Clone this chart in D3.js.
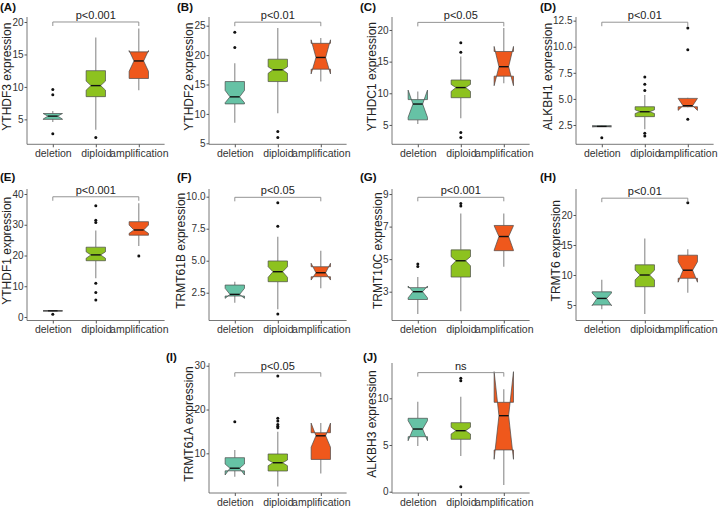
<!DOCTYPE html>
<html>
<head>
<meta charset="utf-8">
<script src="https://cdn.jsdelivr.net/npm/d3@7/dist/d3.min.js"></script>
<style>
  body { margin: 0; background: #fff; }
  svg { display: block; font-family: 'Liberation Sans', Arial, sans-serif; }
</style>
</head>
<body>
<div id="container"></div>
<script>
// ---- data ----
const groups = ['deletion', 'diploid', 'amplification'];
const genes = ['YTHDF3', 'YTHDF2', 'YTHDC1', 'ALKBH1', 'YTHDF1', 'TRMT61B', 'TRMT10C', 'TRMT6', 'TRMT61A', 'ALKBH3'];
const tags = ['(A)', '(B)', '(C)', '(D)', '(E)', '(F)', '(G)', '(H)', '(I)', '(J)'];
const pLabels = ['p<0.001', 'p<0.01', 'p<0.05', 'p<0.01', 'p<0.001', 'p<0.05', 'p<0.001', 'p<0.01', 'p<0.05', 'ns'];
const yTicks = [
    [5, 10, 15, 20], [5, 10, 15, 20, 25], [5, 10, 15, 20], [2.5, 5, 7.5, 10, 12.5],
    [0, 10, 20, 30, 40], [2.5, 5, 7.5, 10], [3, 5, 7, 9], [5, 10, 15, 20],
    [10, 20, 30], [0, 5, 10]
];
const yDomains = [
    [1.16, 20.77], [4.83, 26.48], [1.94, 22.05], [0.65, 12.85],
    [-1.14, 41.63], [0.33, 10.6], [1.23, 9.31], [2.42, 24.33],
    [0.94, 30.62], [-0.14, 13.78]
];
const bracketY = [20.0, 25.6, 21.2, 12.35, 39.1, 9.95, 8.8, 22.8, 28.4, 12.75];

// per panel: [deletion, diploid, amplification]
const whiskerLo = [
    [4.6, 3.4, 9.5], [8.5, 10.1, 15.5], [5.15, 6.05, 11.6], [2.3, 2.1, 4.2], [2.0, 12.6, 23.1],
    [1.72, 1.2, 2.84], [1.63, 1.8, 4.53], [4.3, 3.5, 7.05], [4.65, 2.4, 5.4], [4.9, 3.82, 0.72]
];
const q1 = [
    [5.0, 8.5, 11.3], [11.7, 15.5, 17.6], [5.8, 9.3, 12.7], [2.33, 3.3, 4.25], [2.0, 18.3, 26.6],
    [2.24, 3.36, 3.75], [2.52, 3.9, 5.52], [5.0, 8.05, 9.45], [6.0, 5.96, 8.6], [5.89, 5.61, 4.47]
];
const notchLo = [
    [5.05, 9.5, 12.4], [11.9, 16.9, 16.8], [6.2, 10.3, 11.2], [2.33, 3.6, 3.9], [2.0, 19.1, 27.2],
    [2.06, 3.7, 3.49], [2.62, 4.59, 5.55], [4.9, 9.2, 8.8], [5.05, 7.17, 11.4], [5.46, 6.18, 3.47]
];
const medians = [
    [5.5, 10.2, 14.0], [12.9, 17.5, 19.6], [8.3, 10.9, 14.2], [2.37, 3.77, 4.35], [2.0, 20.2, 28.3],
    [2.37, 4.14, 4.06], [3.0, 4.9, 6.39], [6.1, 10.0, 10.8], [6.6, 7.85, 14.0], [6.71, 6.53, 8.14]
];
const notchHi = [
    [5.9, 10.9, 15.6], [14.0, 18.0, 22.6], [10.5, 11.4, 17.4], [2.42, 3.95, 5.05], [2.0, 21.2, 29.9],
    [2.84, 4.53, 4.8], [3.35, 5.15, 7.05], [7.0, 10.8, 12.2], [7.55, 8.47, 16.9], [7.6, 6.9, 12.85]
];
const q3 = [
    [5.9, 12.5, 15.4], [15.5, 19.3, 22.0], [9.0, 12.1, 16.6], [2.42, 4.25, 5.05], [2.0, 22.7, 31.0],
    [3.1, 4.98, 4.53], [3.25, 5.57, 7.07], [7.2, 11.7, 13.3], [9.0, 9.85, 14.7], [7.86, 7.39, 9.57]
];
const whiskerHi = [
    [6.3, 17.6, 19.0], [18.6, 24.6, 22.9], [10.3, 15.8, 20.3], [2.45, 5.38, 5.1], [2.0, 28.1, 37.0],
    [3.36, 6.88, 5.78], [3.9, 7.8, 7.8], [9.2, 16.1, 14.3], [10.75, 14.9, 16.9], [9.64, 10.17, 10.96]
];
const outliers = [
    [[9.6, 8.8, 2.8], [2.2], []],
    [[21.3, 23.9], [7.0, 6.0], []],
    [[], [18.0, 16.5, 3.8, 3.0], []],
    [[1.28], [7.1, 6.4, 5.8, 1.7, 1.45], [11.8, 9.7, 3.05]],
    [[0.9], [36.2, 31.5, 30.7, 11.0, 8.0, 5.5], [19.8]],
    [[], [9.53, 7.7, 0.84], []],
    [[4.7, 4.55], [8.42, 8.27], []],
    [[], [], [22.05]],
    [[17.2], [27.65, 18.0, 17.4, 16.6, 16.2, 15.85], []],
    [[], [12.14, 11.88, 0.54], []]
];

// ---- layout ----
const W = 720, H = 509;
const FONT = "'Liberation Sans', Arial, sans-serif";
const fills = { deletion: '#66C2A5', diploid: '#8DC21F', amplification: '#EF581C' };
const colAxisX = [27, 209, 392, 576];
const colTagX = [0, 177, 360, 540];
const rowTop = [17, 189, 363];
const rowBottom = [144.3, 320.5, 493];
const rowTagY = [11, 181, 361];
const plotW = 137.6;
const cells = [
    [0, 0], [0, 1], [0, 2], [0, 3],
    [1, 0], [1, 1], [1, 2], [1, 3],
    [2, 1], [2, 2]
];
const tagShift = [0, 0, 0, 0, 0, 0, 0, 0, -11, 3];

const svg = d3.select('#container')
    .append('svg')
    .attr('width', W)
    .attr('height', H);

genes.forEach((gene, p) => {
    const [r, c] = cells[p];
    const x0 = colAxisX[c];
    const top = rowTop[r], bottom = rowBottom[r];
    const g = svg.append('g');

    const x = d3.scalePoint().domain(groups).range([x0, x0 + plotW]).padding(0.6);
    const y = d3.scaleLinear().domain(yDomains[p]).range([bottom, top]);
    const half = x.step() * 0.225;
    const dec = yTicks[p].some(t => t % 1 !== 0);
    const fmt = dec ? d3.format('.1f') : d3.format('d');

    // tag
    g.append('text')
        .attr('x', colTagX[c] + tagShift[p])
        .attr('y', rowTagY[r])
        .attr('font-size', 11.5)
        .attr('font-weight', 'bold')
        .attr('fill', '#111')
        .text(tags[p]);

    // y axis
    const yAxis = g.append('g')
        .attr('transform', `translate(${x0},0)`)
        .call(d3.axisLeft(y).tickValues(yTicks[p]).tickFormat(fmt).tickSize(2.5).tickPadding(1))
        .attr('font-family', FONT)
        .attr('font-size', 10);
    yAxis.select('.domain').remove();
    yAxis.selectAll('line').attr('stroke', '#555');
    yAxis.selectAll('text').attr('fill', '#333');

    // x axis
    const xAxis = g.append('g')
        .attr('transform', `translate(0,${bottom})`)
        .call(d3.axisBottom(x).tickSize(3).tickPadding(2.5))
        .attr('font-family', FONT)
        .attr('font-size', 10.5);
    xAxis.select('.domain').remove();
    xAxis.selectAll('line').attr('stroke', '#555');
    xAxis.selectAll('text').attr('fill', '#333');

    // axis lines
    g.append('path')
        .attr('d', `M${x0},${top}V${bottom}H${x0 + plotW}`)
        .attr('fill', 'none')
        .attr('stroke', '#555')
        .attr('stroke-width', 0.8);

    // y title
    let maxW = 0;
    yAxis.selectAll('text').each(function () { maxW = Math.max(maxW, this.getComputedTextLength()); });
    const tx = x0 - 3.5 - maxW - 5.5;
    g.append('text')
        .attr('transform', `translate(${tx},${(top + bottom) / 2 - 4}) rotate(-90)`)
        .attr('text-anchor', 'middle')
        .attr('dy', '0.36em')
        .attr('font-size', 12)
        .attr('fill', '#222')
        .text(gene + ' expression');

    // boxes
    groups.forEach((grp, i) => {
        const cx = x(grp);
        const xmin = cx - half, xmax = cx + half;
        const ind = (xmax - xmin) * 0.25;
        // whiskers
        g.append('line')
            .attr('x1', cx).attr('x2', cx)
            .attr('y1', y(q3[p][i])).attr('y2', y(whiskerHi[p][i]))
            .attr('stroke', '#8a8a8a').attr('stroke-width', 1.1);
        g.append('line')
            .attr('x1', cx).attr('x2', cx)
            .attr('y1', y(q1[p][i])).attr('y2', y(whiskerLo[p][i]))
            .attr('stroke', '#8a8a8a').attr('stroke-width', 1.1);
        const pts = [
            [xmin, q3[p][i]], [xmin, notchHi[p][i]], [xmin + ind, medians[p][i]], [xmin, notchLo[p][i]],
            [xmin, q1[p][i]], [xmax, q1[p][i]], [xmax, notchLo[p][i]], [xmax - ind, medians[p][i]],
            [xmax, notchHi[p][i]], [xmax, q3[p][i]]
        ];
        g.append('path')
            .attr('d', 'M' + pts.map(d => d[0] + ',' + y(d[1])).join('L') + 'Z')
            .attr('fill', fills[grp])
            .attr('stroke', '#4a4a4a')
            .attr('stroke-width', 0.7);
        g.append('line')
            .attr('x1', xmin + ind).attr('x2', xmax - ind)
            .attr('y1', y(medians[p][i])).attr('y2', y(medians[p][i]))
            .attr('stroke', '#111').attr('stroke-width', 1.4);
        g.selectAll(null)
            .data(outliers[p][i])
            .enter()
            .append('circle')
            .attr('cx', cx)
            .attr('cy', d => y(d))
            .attr('r', 1.5)
            .attr('fill', '#111');
    });

    // significance bracket
    const by = y(bracketY[p]);
    const bx1 = x(groups[0]), bx2 = x(groups[2]);
    g.append('path')
        .attr('d', `M${bx1},${by + 4}V${by}H${bx2}V${by + 4}`)
        .attr('fill', 'none')
        .attr('stroke', '#888')
        .attr('stroke-width', 0.9);
    g.append('text')
        .attr('x', (bx1 + bx2) / 2)
        .attr('y', by - 3)
        .attr('text-anchor', 'middle')
        .attr('font-size', 11)
        .attr('fill', '#222')
        .text(pLabels[p]);
});
</script>
</body>
</html>
